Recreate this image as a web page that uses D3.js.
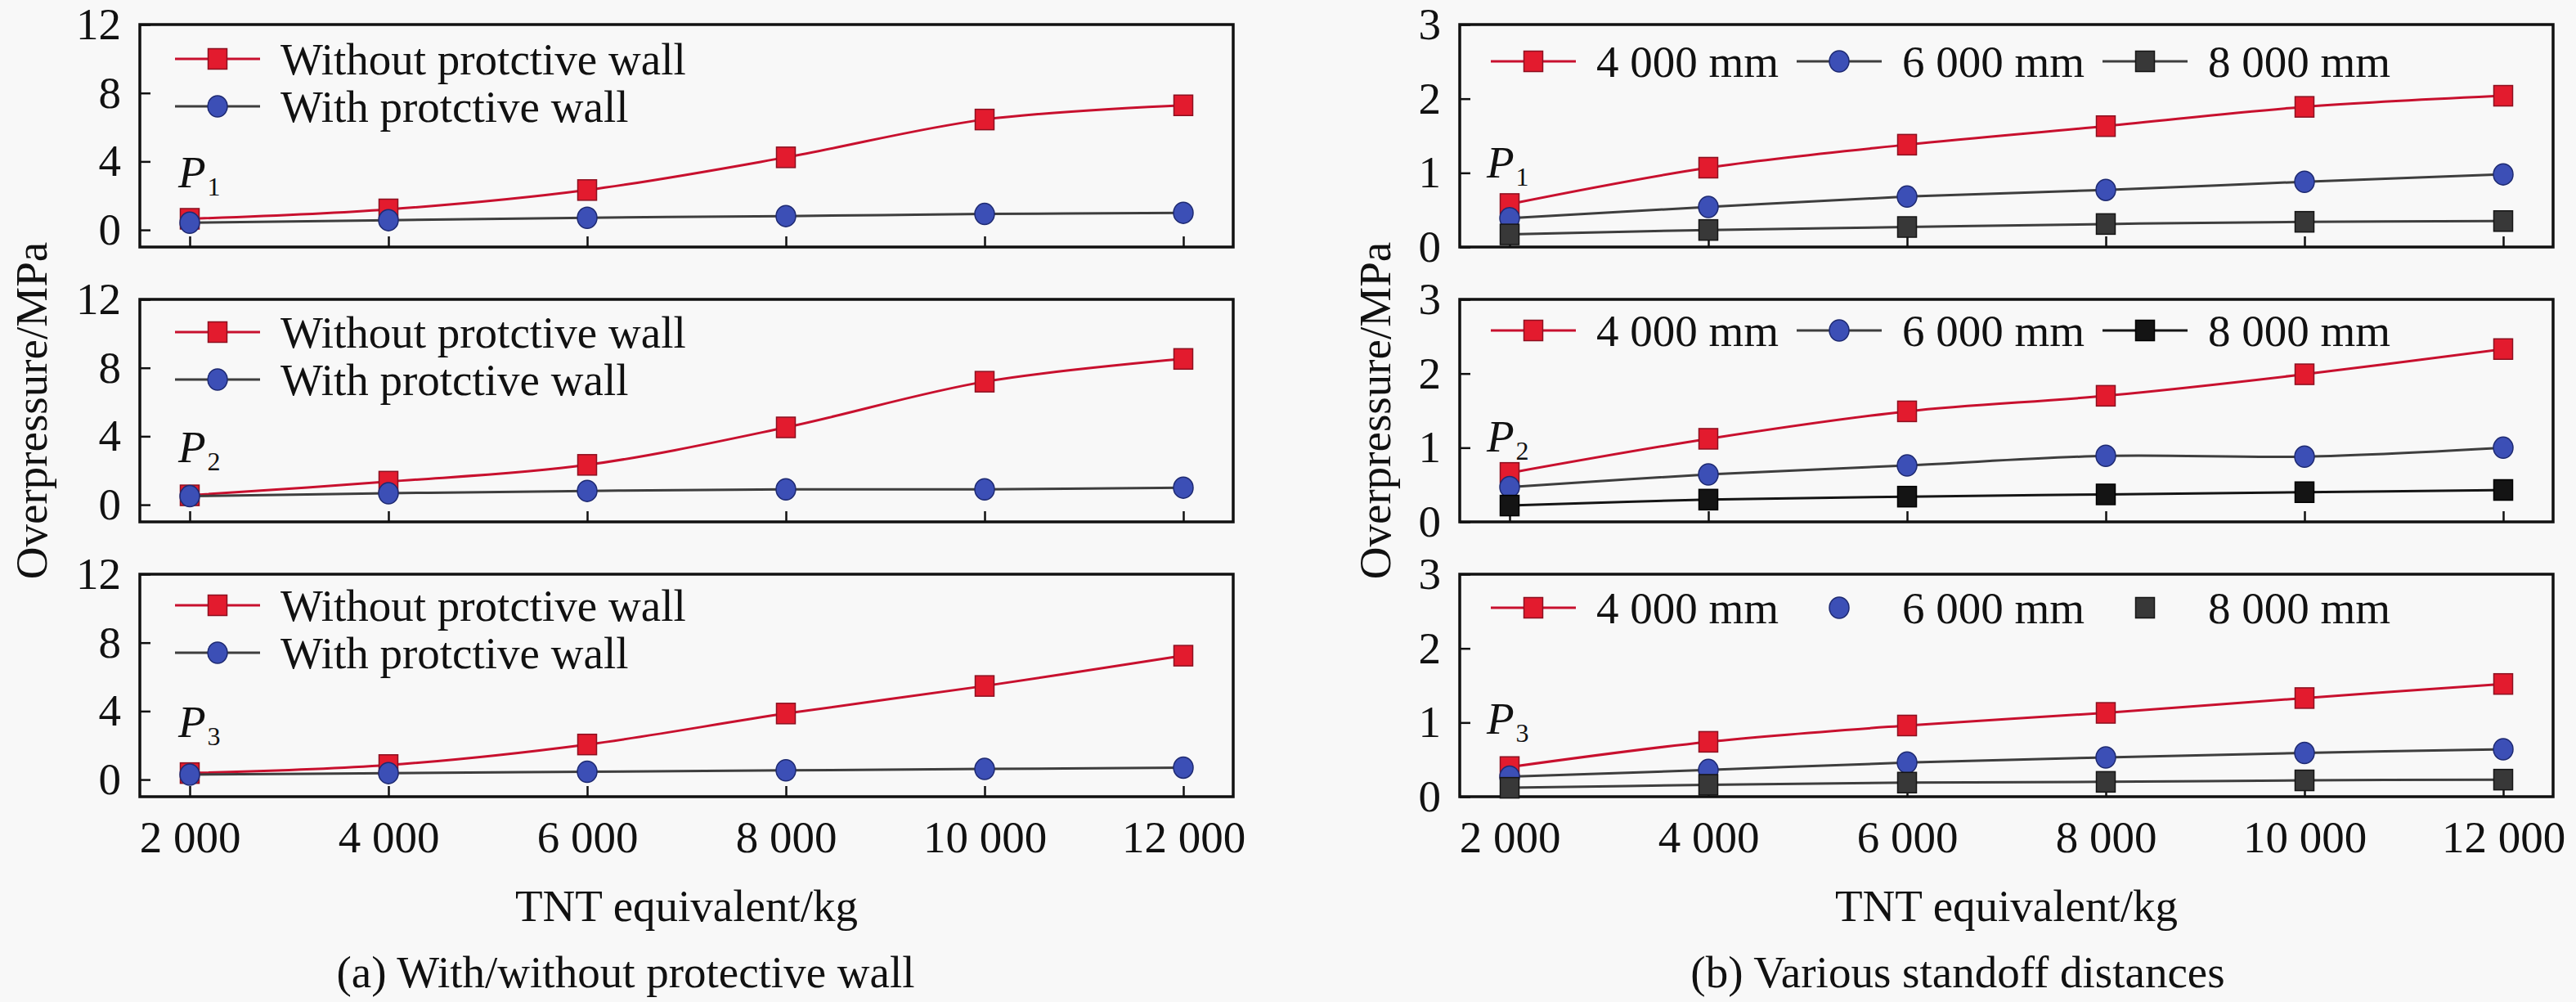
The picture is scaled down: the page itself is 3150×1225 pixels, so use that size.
<!DOCTYPE html>
<html>
<head>
<meta charset="utf-8">
<script src="https://cdn.jsdelivr.net/npm/d3@7"></script>
<style>
  body { margin: 0; background: #f8f8f8; }
  svg text { font-family: "Liberation Serif", "Times New Roman", serif !important; fill: #111; }
</style>
</head>
<body>
<svg id="chart" width="3150" height="1225" font-family="Liberation Serif"></svg>
<script>
// TNT equivalent (kg) on the x axis
var tntKg = [2000, 4000, 6000, 8000, 10000, 12000];
var xTickLabels = ["2 000", "4 000", "6 000", "8 000", "10 000", "12 000"];
var leftYTicks = [0, 4, 8, 12];
var rightYTicks = [0, 1, 2, 3];
var pointNames = ["1", "2", "3"];

// (a) with / without protective wall, overpressure MPa
var p1Without = [0.65, 1.2, 2.33, 4.24, 6.45, 7.28];
var p1With = [0.42, 0.57, 0.71, 0.81, 0.93, 1.0];
var p2Without = [0.55, 1.35, 2.33, 4.52, 7.19, 8.52];
var p2With = [0.5, 0.67, 0.81, 0.9, 0.9, 1.0];
var p3Without = [0.38, 0.85, 2.05, 3.86, 5.47, 7.24];
var p3With = [0.29, 0.38, 0.46, 0.54, 0.62, 0.70];
var wallLabels = ["Without protctive wall", "With protctive wall"];

// (b) standoff distances, overpressure MPa
var p1d4000 = [0.58, 1.07, 1.38, 1.63, 1.89, 2.04];
var p1d6000 = [0.39, 0.54, 0.68, 0.77, 0.88, 0.98];
var p1d8000 = [0.17, 0.23, 0.27, 0.31, 0.34, 0.35];
var p2d4000 = [0.66, 1.12, 1.49, 1.70, 1.99, 2.33];
var p2d6000 = [0.47, 0.64, 0.76, 0.89, 0.88, 1.0];
var p2d8000 = [0.22, 0.30, 0.34, 0.37, 0.40, 0.43];
var p3d4000 = [0.40, 0.74, 0.96, 1.13, 1.33, 1.52];
var p3d6000 = [0.27, 0.36, 0.46, 0.53, 0.59, 0.64];
var p3d8000 = [0.12, 0.16, 0.19, 0.20, 0.22, 0.23];
var distLabels = ["4 000 mm", "6 000 mm", "8 000 mm"];

var styles = {
	red:   { line: "#c8102e", fill: "#e31b2e", stroke: "#8c1020", shape: "square" },
	blue:  { line: "#3e3e3e", fill: "#3c4fb6", stroke: "#1e2a72", shape: "circle" },
	grey:  { line: "#3e3e3e", fill: "#383838", stroke: "#151515", shape: "square" },
	black: { line: "#151515", fill: "#141414", stroke: "#000000", shape: "square" }
};

var svg = d3.select("#chart");
var FONT = "Liberation Serif";
var FS = 55;
var boxW = 1337, boxH = 272;
var boxTops = [30, 366, 702];

function txt(sel) {
	return sel.style("font-family", FONT).style("font-size", FS + "px").style("fill", "#111");
}

function drawMarker(g, x, y, st) {
	if (st.shape == "square") {
		g.append("rect")
			.attr("x", x - 11.5).attr("y", y - 12.5)
			.attr("width", 23).attr("height", 25)
			.style("fill", st.fill).style("stroke", st.stroke).style("stroke-width", 1.5);
	} else {
		g.append("ellipse")
			.attr("cx", x).attr("cy", y).attr("rx", 12).attr("ry", 13)
			.style("fill", st.fill).style("stroke", st.stroke).style("stroke-width", 1.5);
	}
}

function drawPlot(left, top, yDomain, yTicks, series, legend, pName, showX) {
	var g = svg.append("g").attr("transform", "translate(" + left + "," + top + ")");
	var x = d3.scaleLinear().domain([2000, 12000]).range([61, boxW - 61]);
	var y = d3.scaleLinear().domain(yDomain).range([boxH, 0]);

	g.append("rect").attr("width", boxW).attr("height", boxH)
		.style("fill", "none").style("stroke", "#111").style("stroke-width", 3.5);

	var xAxis = d3.axisBottom(x).tickValues(tntKg)
		.tickFormat(function(d, i) { return showX ? xTickLabels[i] : ""; })
		.tickSizeInner(-13).tickSizeOuter(0).tickPadding(29);
	var xg = g.append("g").attr("transform", "translate(0," + boxH + ")").call(xAxis)
		.attr("font-family", FONT);
	xg.select(".domain").remove();
	xg.selectAll("line").style("stroke", "#111").style("stroke-width", 2.5);
	txt(xg.selectAll("text"));

	var yAxis = d3.axisLeft(y).tickValues(yTicks).tickFormat(d3.format("d"))
		.tickSizeInner(-13).tickSizeOuter(0).tickPadding(23);
	var yg = g.append("g").call(yAxis).attr("font-family", FONT);
	yg.select(".domain").remove();
	yg.selectAll("line").style("stroke", "#111").style("stroke-width", 2.5);
	txt(yg.selectAll("text"));

	var line = d3.line()
		.x(function(d, i) { return x(tntKg[i]); })
		.y(function(d) { return y(d); })
		.curve(d3.curveCatmullRom.alpha(0.5));

	series.forEach(function(s) {
		g.append("path").datum(s.values).attr("d", line)
			.style("fill", "none").style("stroke", s.style.line).style("stroke-width", 3);
	});
	series.forEach(function(s) {
		s.values.forEach(function(v, i) { drawMarker(g, x(tntKg[i]), y(v), s.style); });
	});

	// legend
	legend.items.forEach(function(it, i) {
		var lx = legend.x + (legend.dx || 0) * i;
		var ly = legend.y + (legend.dy || 0) * i;
		if (it.line) {
			g.append("line").attr("x1", lx - 52).attr("x2", lx + 52).attr("y1", ly).attr("y2", ly)
				.style("stroke", it.style.line).style("stroke-width", 3);
		}
		drawMarker(g, lx, ly, it.style);
		txt(g.append("text").attr("x", lx + 77).attr("y", ly + 19)).text(it.label);
	});

	// point label P with subscript
	var pt = txt(g.append("text").attr("x", pName.x).attr("y", pName.y));
	pt.append("tspan").style("font-style", "italic").text("P");
	pt.append("tspan").attr("dy", 10).attr("dx", 2).style("font-size", "32px").text(pName.sub);
}

var leftX = 171, rightX = 1785;

var leftSeries = [[p1Without, p1With], [p2Without, p2With], [p3Without, p3With]];
var leftLegendY = [42, 40, 38];
leftSeries.forEach(function(pair, k) {
	drawPlot(leftX, boxTops[k], [-1, 12], leftYTicks,
		[{ values: pair[0], style: styles.red }, { values: pair[1], style: styles.blue }],
		{ x: 95, y: leftLegendY[k], dy: 58, items: [
			{ label: wallLabels[0], style: styles.red, line: true },
			{ label: wallLabels[1], style: styles.blue, line: true }] },
		{ x: 47, y: 199, sub: pointNames[k] }, k == 2);
});

var rightSeries = [[p1d4000, p1d6000, p1d8000], [p2d4000, p2d6000, p2d8000], [p3d4000, p3d6000, p3d8000]];
var rightLegendY = [45, 38, 41];
var rightPY = [187, 186, 195];
rightSeries.forEach(function(tri, k) {
	var blk = k == 1 ? styles.black : styles.grey;
	drawPlot(rightX, boxTops[k], [0, 3], rightYTicks,
		[{ values: tri[0], style: styles.red }, { values: tri[1], style: styles.blue }, { values: tri[2], style: blk }],
		{ x: 90, y: rightLegendY[k], dx: 374, items: [
			{ label: distLabels[0], style: styles.red, line: true },
			{ label: distLabels[1], style: styles.blue, line: k != 2 },
			{ label: distLabels[2], style: blk, line: k != 2 }] },
		{ x: 33, y: rightPY[k], sub: pointNames[k] }, k == 2);
});

// axis titles and captions
[[57, 502], [1700, 502]].forEach(function(p) {
	txt(svg.append("text").attr("transform", "translate(" + p[0] + "," + p[1] + ") rotate(-90)")
		.attr("text-anchor", "middle")).text("Overpressure/MPa");
});
[[leftX + boxW / 2, "(a) With/without protective wall", 765], [rightX + boxW / 2, "(b) Various standoff distances", 2394]]
	.forEach(function(c) {
		txt(svg.append("text").attr("x", c[0]).attr("y", 1126).attr("text-anchor", "middle"))
			.text("TNT equivalent/kg");
		txt(svg.append("text").attr("x", c[2]).attr("y", 1207).attr("text-anchor", "middle"))
			.text(c[1]);
	});
</script>
</body>
</html>
